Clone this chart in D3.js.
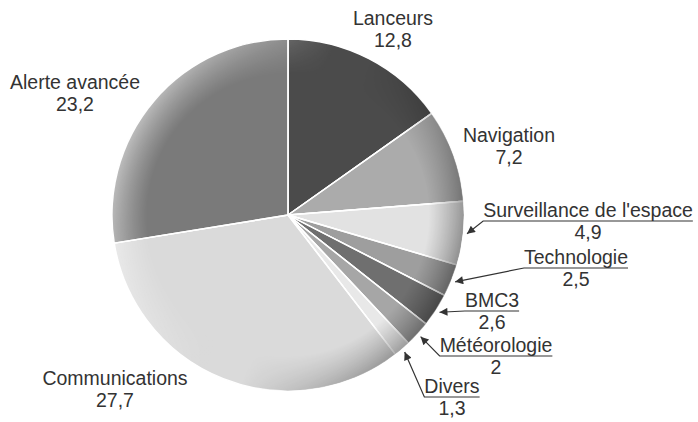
<!DOCTYPE html>
<html>
<head>
<meta charset="utf-8">
<script src="https://cdn.jsdelivr.net/npm/d3@7/dist/d3.min.js"></script>
<style>
  html, body { margin: 0; padding: 0; background: #fff; }
  svg { display: block; }
  text { font-family: "Liberation Sans", Arial, sans-serif; fill: #333; }
</style>
</head>
<body>
<svg id="chart" width="698" height="422"></svg>
<script>
// Budget par domaine (ordre horaire depuis midi)
const categories = ["Lanceurs", "Navigation", "Surveillance de l'espace", "Technologie", "BMC3",
                    "Météorologie", "Divers", "Communications", "Alerte avancée"];
const values = [12.8, 7.2, 4.9, 2.5, 2.6, 2, 1.3, 27.7, 23.2];
const valueLabels = ["12,8", "7,2", "4,9", "2,5", "2,6", "2", "1,3", "27,7", "23,2"];
const sliceGreys = ["#4b4b4b", "#ababab", "#e2e2e2", "#9e9e9e", "#6f6f6f",
                    "#a6a6a6", "#e8e8e8", "#dadada", "#7a7a7a"];

// Label layout: centre x, first baseline y, and whether the label uses an arrow leader
const labelLayout = [
  { x: 393, y: 25 },
  { x: 509, y: 142 },
  { x: 588, y: 217, arrow: true },
  { x: 576, y: 264, arrow: true },
  { x: 492, y: 307, arrow: true },
  { x: 496, y: 352, arrow: true },
  { x: 452, y: 393, arrow: true },
  { x: 115, y: 385 },
  { x: 75,  y: 89 }
];

const cx = 288, cy = 215, R = 176;
const fontSize = 19.5, lineGap = 22;

const svg = d3.select("#chart");
const defs = svg.append("defs");

// Rim lighting: light on the left edge, shadow on the right edge
const lg = defs.append("linearGradient").attr("id", "rimLight")
  .attr("x1", "0").attr("y1", "0.3").attr("x2", "1").attr("y2", "0.7");
lg.append("stop").attr("offset", "0").attr("stop-color", "#fff").attr("stop-opacity", 0.55);
lg.append("stop").attr("offset", "0.45").attr("stop-color", "#fff").attr("stop-opacity", 0);
lg.append("stop").attr("offset", "0.55").attr("stop-color", "#000").attr("stop-opacity", 0);
lg.append("stop").attr("offset", "1").attr("stop-color", "#000").attr("stop-opacity", 0.4);

const rg = defs.append("radialGradient").attr("id", "rimMaskGrad")
  .attr("cx", "0.5").attr("cy", "0.5").attr("r", "0.5");
rg.append("stop").attr("offset", "0").attr("stop-color", "#000");
rg.append("stop").attr("offset", "0.8").attr("stop-color", "#000");
rg.append("stop").attr("offset", "1").attr("stop-color", "#fff");

defs.append("mask").attr("id", "rimMask")
  .attr("maskUnits", "userSpaceOnUse")
  .attr("x", cx - R).attr("y", cy - R).attr("width", 2 * R).attr("height", 2 * R)
  .append("circle").attr("cx", cx).attr("cy", cy).attr("r", R).attr("fill", "url(#rimMaskGrad)");

// Arrow head marker for leader lines
defs.append("marker").attr("id", "arrow")
  .attr("viewBox", "0 0 10 10").attr("refX", 10).attr("refY", 5)
  .attr("markerWidth", 10).attr("markerHeight", 8)
  .attr("markerUnits", "userSpaceOnUse")
  .attr("orient", "auto-start-reverse")
  .append("path").attr("d", "M0,0 L10,5 L0,10 Z").attr("fill", "#333");

const data = categories.map((c, i) => ({ name: c, value: values[i], label: valueLabels[i], i }));

const pie = d3.pie().value(d => d.value).sort(null);
const arcs = pie(data);
const arc = d3.arc().innerRadius(0).outerRadius(R);
const color = d3.scaleOrdinal().domain(categories).range(sliceGreys);

const g = svg.append("g").attr("transform", `translate(${cx},${cy})`);
g.selectAll("path.slice").data(arcs).enter().append("path")
  .attr("class", "slice")
  .attr("d", arc)
  .attr("fill", d => color(d.data.name))
  .attr("stroke", "#fff")
  .attr("stroke-width", 1.4)
  .attr("stroke-linejoin", "round");

// Rim shading overlay
svg.append("circle").attr("cx", cx).attr("cy", cy).attr("r", R)
  .attr("fill", "url(#rimLight)").attr("mask", "url(#rimMask)")
  .attr("pointer-events", "none");

// Re-draw the thin white separators above the shading
g.selectAll("line.sep").data(arcs).enter().append("line")
  .attr("class", "sep")
  .attr("x1", 0).attr("y1", 0)
  .attr("x2", d => R * Math.sin(d.startAngle))
  .attr("y2", d => -R * Math.cos(d.startAngle))
  .attr("stroke", "#fff").attr("stroke-width", 1.4);

// Labels
const labels = svg.append("g");
arcs.forEach((a, i) => {
  const L = labelLayout[i];
  const t1 = labels.append("text")
    .attr("x", L.x).attr("y", L.y)
    .attr("text-anchor", "middle")
    .attr("font-size", fontSize)
    .text(a.data.name);
  labels.append("text")
    .attr("x", L.x).attr("y", L.y + lineGap)
    .attr("text-anchor", "middle")
    .attr("font-size", fontSize)
    .text(a.data.label);

  if (L.arrow) {
    const w = t1.node().getComputedTextLength();
    const left = L.x - w / 2, right = L.x + w / 2;
    const uy = L.y + 4;
    const mid = (a.startAngle + a.endAngle) / 2;
    const tipR = R + 4;
    const tx = cx + tipR * Math.sin(mid), ty = cy - tipR * Math.cos(mid);
    labels.append("path")
      .attr("d", `M${right},${uy} L${left},${uy} L${tx},${ty}`)
      .attr("fill", "none").attr("stroke", "#333").attr("stroke-width", 1.2)
      .attr("marker-end", "url(#arrow)");
  }
});
</script>
</body>
</html>
